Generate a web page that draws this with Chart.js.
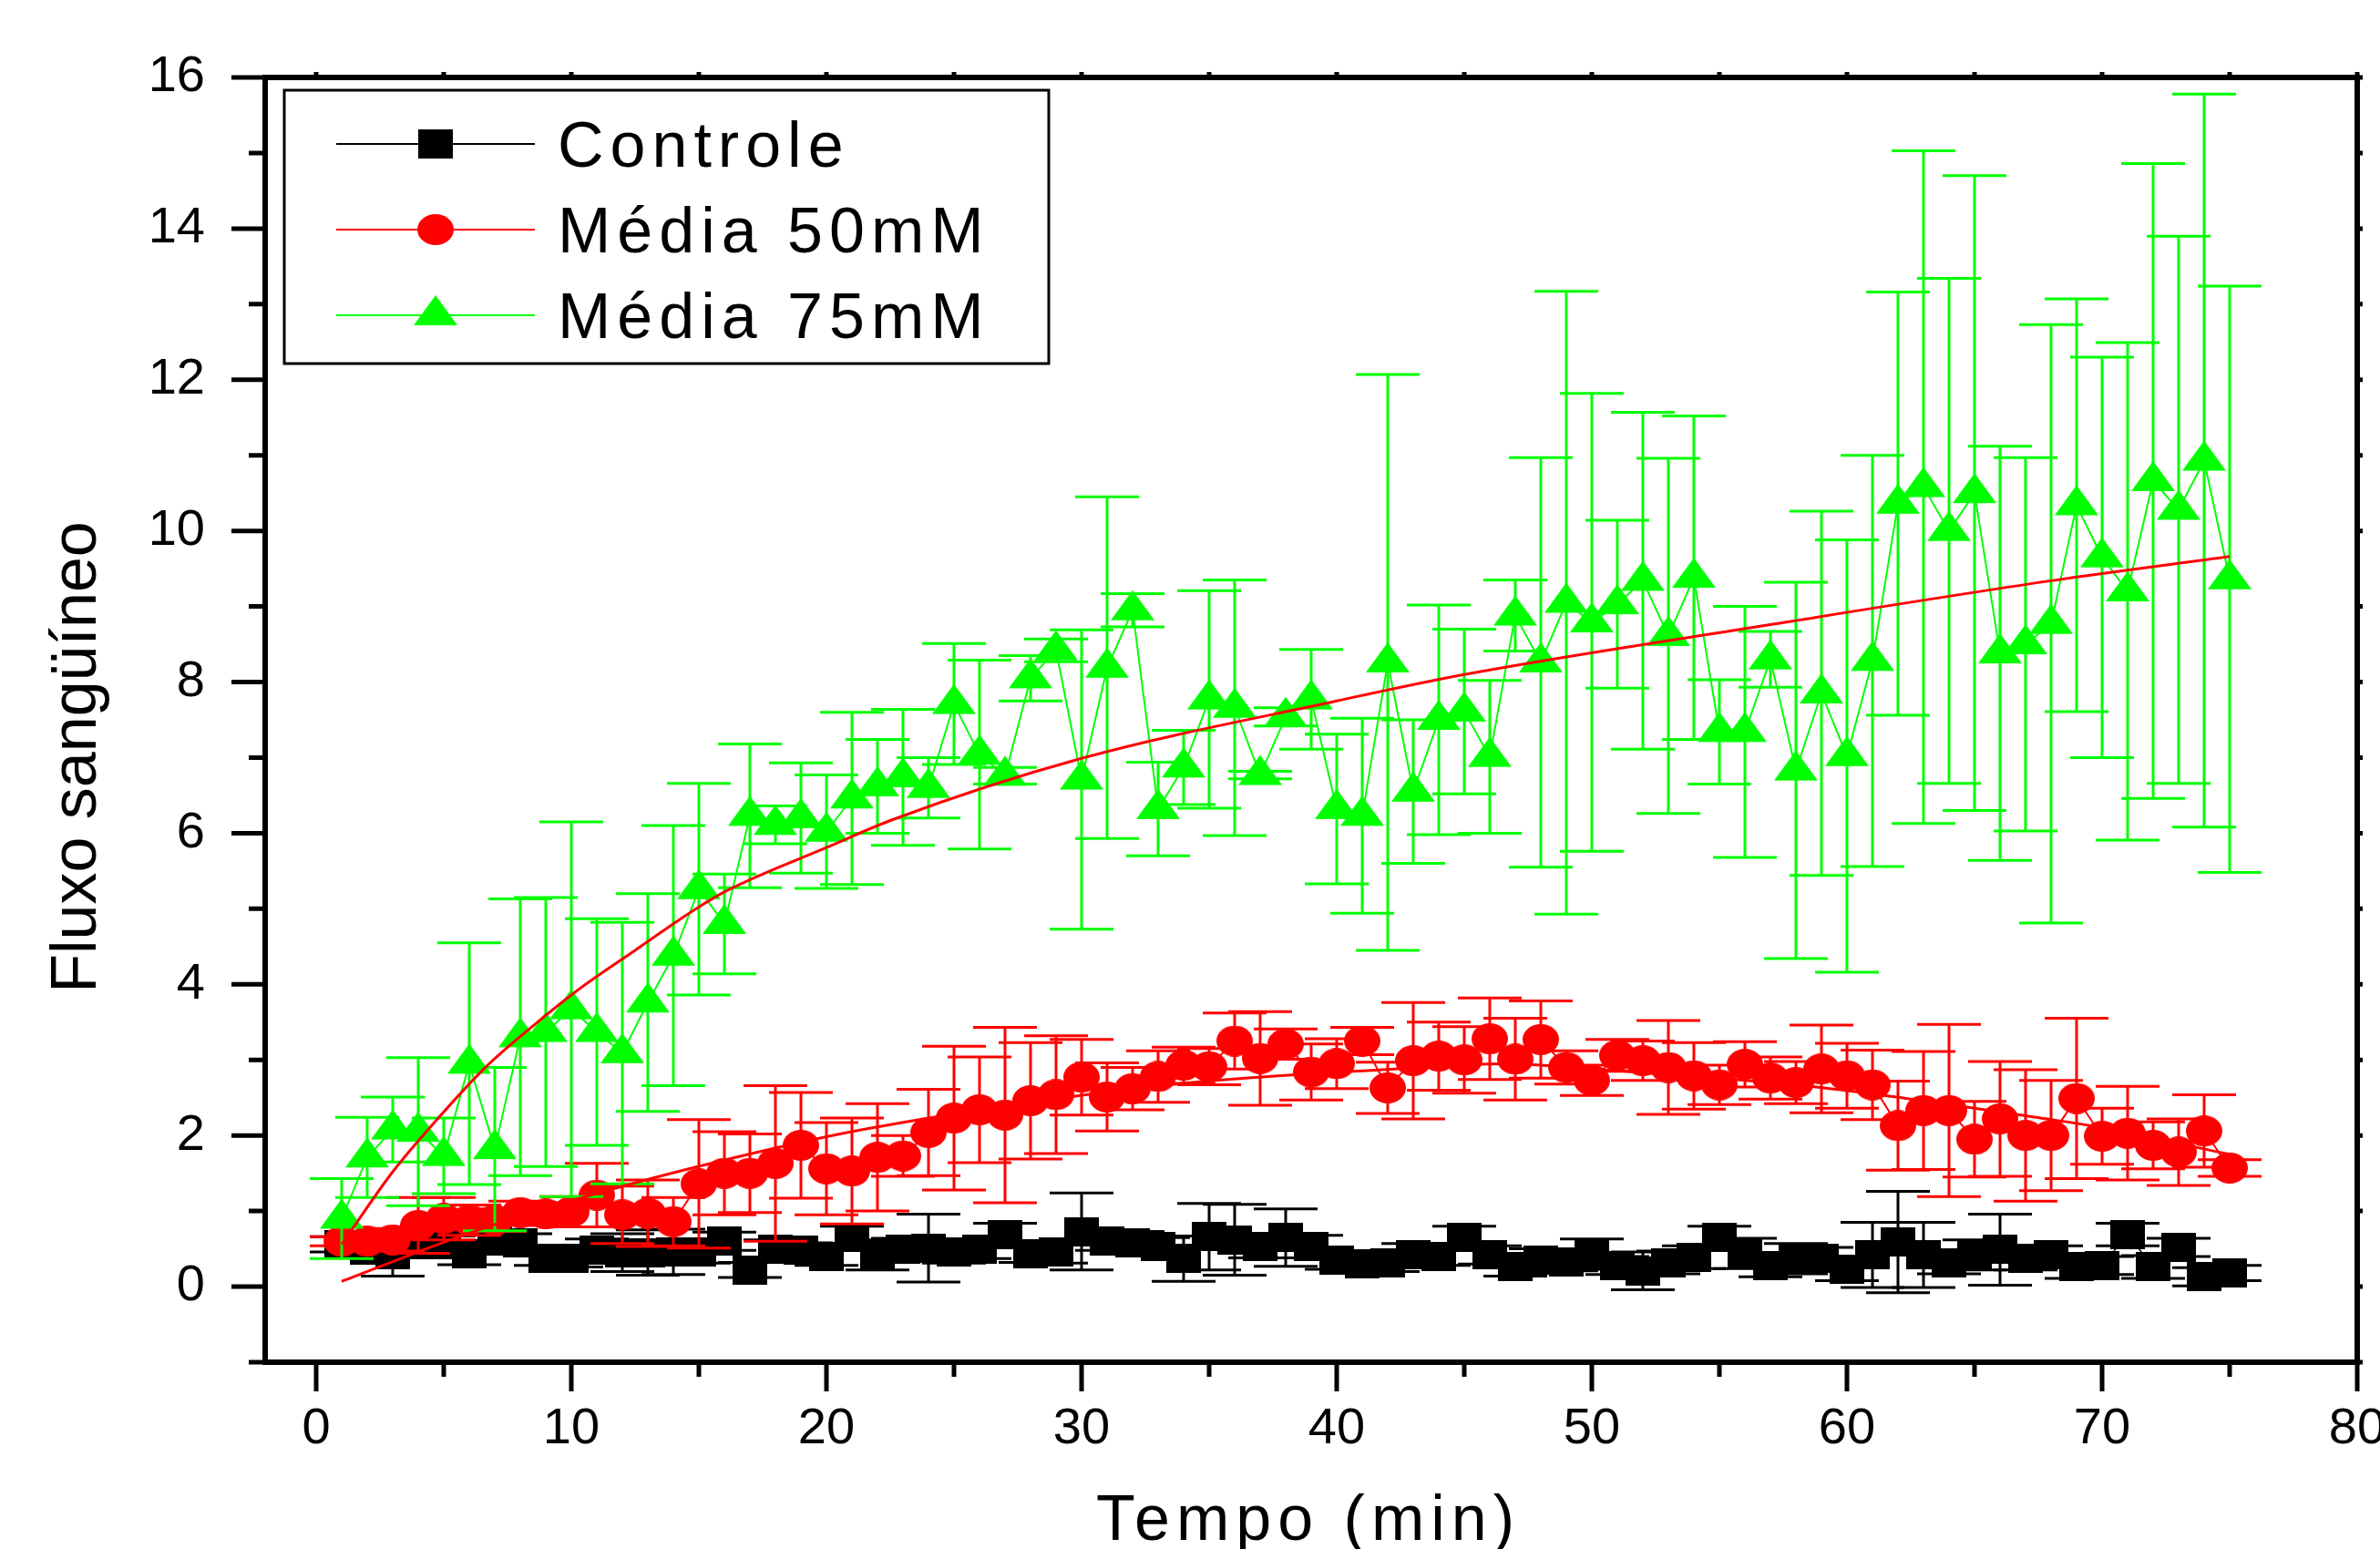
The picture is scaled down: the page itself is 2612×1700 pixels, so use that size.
<!DOCTYPE html>
<html>
<head>
<meta charset="utf-8">
<title>Fluxo sangüíneo</title>
<script src="https://cdn.jsdelivr.net/npm/chart.js@4.4.1/dist/chart.umd.min.js"></script>
<style>
    html, body { margin: 0; padding: 0; background: #fff; }
</style>
</head>
<body>
<canvas id="fluxoChart" width="2612" height="1700"></canvas>
<script>
// Tempo (min)
const tempo = [1, 2, 3, 4, 5, 6, 7, 8, 9, 10, 11, 12, 13, 14, 15, 16, 17, 18, 19, 20,
    21, 22, 23, 24, 25, 26, 27, 28, 29, 30, 31, 32, 33, 34, 35, 36, 37, 38, 39, 40,
    41, 42, 43, 44, 45, 46, 47, 48, 49, 50, 51, 52, 53, 54, 55, 56, 57, 58, 59, 60,
    61, 62, 63, 64, 65, 66, 67, 68, 69, 70, 71, 72, 73, 74, 75];

// Controle
const controle = [0.56, 0.48, 0.42, 0.55, 0.55, 0.44, 0.60, 0.58, 0.38, 0.38,
    0.48, 0.45, 0.45, 0.46, 0.46, 0.60, 0.22, 0.50, 0.48, 0.40,
    0.65, 0.42, 0.49, 0.51, 0.46, 0.49, 0.69, 0.44, 0.46, 0.73,
    0.60, 0.58, 0.53, 0.37, 0.66, 0.62, 0.53, 0.65, 0.53, 0.35,
    0.30, 0.32, 0.42, 0.40, 0.65, 0.42, 0.26, 0.35, 0.33, 0.43,
    0.28, 0.21, 0.32, 0.39, 0.65, 0.44, 0.28, 0.37, 0.37, 0.23,
    0.42, 0.59, 0.42, 0.32, 0.42, 0.49, 0.37, 0.42, 0.26, 0.28,
    0.69, 0.26, 0.52, 0.13, 0.18];
const controleErr = [0.10, 0.10, 0.28, 0.10, 0.12, 0.15, 0.10, 0.12, 0.10, 0.12,
    0.15, 0.25, 0.30, 0.30, 0.15, 0.12, 0.10, 0.12, 0.10, 0.12,
    0.15, 0.20, 0.15, 0.45, 0.15, 0.12, 0.15, 0.12, 0.15, 0.51,
    0.12, 0.15, 0.12, 0.30, 0.44, 0.47, 0.15, 0.38, 0.15, 0.12,
    0.10, 0.12, 0.15, 0.12, 0.15, 0.12, 0.12, 0.15, 0.12, 0.20,
    0.12, 0.25, 0.15, 0.15, 0.15, 0.20, 0.15, 0.20, 0.15, 0.15,
    0.43, 0.67, 0.43, 0.15, 0.20, 0.47, 0.15, 0.12, 0.15, 0.12,
    0.15, 0.15, 0.12, 0.12, 0.10];

// Média 50mM
const media50 = [0.60, 0.60, 0.62, 0.81, 0.90, 0.88, 0.88, 0.98, 0.96, 0.99,
    1.21, 0.95, 0.97, 0.86, 1.36, 1.50, 1.50, 1.63, 1.87, 1.56,
    1.53, 1.71, 1.73, 2.04, 2.23, 2.34, 2.27, 2.46, 2.54, 2.77,
    2.51, 2.62, 2.78, 2.93, 2.91, 3.25, 3.02, 3.21, 2.84, 2.95,
    3.25, 2.63, 2.99, 3.05, 3.00, 3.28, 3.01, 3.27, 2.90, 2.73,
    3.06, 2.99, 2.90, 2.79, 2.67, 2.94, 2.76, 2.70, 2.88, 2.79,
    2.67, 2.13, 2.33, 2.33, 1.95, 2.22, 2.00, 2.00, 2.49, 1.99,
    2.03, 1.87, 1.78, 2.06, 1.57];
const media50Err = [0.06, 0.06, 0.15, 0.37, 0.28, 0.20, 0.15, 0.15, 0.15, 0.20,
    0.42, 0.38, 0.44, 0.32, 0.85, 0.55, 0.52, 1.03, 0.70, 0.61,
    0.70, 0.71, 0.27, 0.57, 0.95, 0.70, 1.16, 0.77, 0.78, 0.50,
    0.45, 0.28, 0.34, 0.24, 0.24, 0.37, 0.62, 0.20, 0.37, 0.33,
    0.18, 0.34, 0.77, 0.45, 0.44, 0.54, 0.54, 0.51, 0.22, 0.20,
    0.21, 0.26, 0.62, 0.44, 0.26, 0.30, 0.28, 0.28, 0.58, 0.43,
    0.46, 0.59, 0.78, 1.14, 0.50, 0.76, 0.87, 0.73, 1.06, 0.37,
    0.62, 0.31, 0.44, 0.48, 0.11];

// Média 75mM
const media75 = [0.90, 1.71, 2.08, 2.05, 1.73, 2.95, 1.82, 3.30, 3.37, 3.67,
    3.37, 3.09, 3.76, 4.38, 5.26, 4.80, 6.23, 6.11, 6.20, 6.02,
    6.46, 6.62, 6.74, 6.60, 7.71, 7.04, 6.76, 8.05, 8.42, 6.71,
    8.19, 8.95, 6.32, 6.87, 7.77, 7.66, 6.77, 7.54, 7.77, 6.32,
    6.23, 8.26, 6.55, 7.50, 7.61, 7.01, 8.88, 8.26, 9.05, 8.79,
    9.03, 9.34, 8.61, 9.38, 7.34, 7.34, 8.30, 6.83, 7.85, 7.02,
    8.28, 10.36, 10.58, 10.00, 10.50, 8.38, 8.50, 8.77, 10.34, 9.65,
    9.20, 10.66, 10.28, 10.93, 9.36];
const media75Err = [0.53, 0.53, 0.43, 0.98, 0.50, 1.60, 1.08, 1.83, 1.78, 2.48,
    1.50, 1.73, 1.44, 1.72, 1.40, 0.66, 0.95, 0.25, 0.73, 0.75,
    1.14, 0.62, 0.90, 0.40, 0.80, 1.25, 0.11, 0.30, 0.15, 1.98,
    2.26, 0.22, 0.62, 0.49, 1.44, 1.69, 0.05, 0.12, 0.66, 0.99,
    1.29, 3.81, 0.95, 1.52, 1.09, 1.01, 0.47, 2.71, 4.12, 3.03,
    1.11, 2.23, 2.35, 2.14, 0.69, 1.66, 0.37, 2.49, 2.41, 2.86,
    2.72, 2.80, 4.45, 3.34, 4.20, 2.74, 2.47, 3.96, 2.73, 2.65,
    3.29, 4.20, 3.62, 4.85, 3.88];

// fitted curves
const ajuste50Tempo = [1, 6.1, 11.7, 17.3, 21.6, 33.7, 42.3, 46.6, 50.8, 59.1, 68, 69.7, 75];
const ajuste50 = [0.07, 0.72, 1.30, 1.78, 2.09, 2.68, 2.88, 2.95, 2.86, 2.63, 2.21, 2.12, 1.75];
const ajuste75Tempo = [1, 3, 4.6, 6.6, 8.5, 10.2, 12.5, 14.8, 16.1, 20, 22.6, 30, 40, 45, 57, 68, 75];
const ajuste75 = [0.56, 1.52, 2.16, 2.89, 3.45, 3.91, 4.45, 4.98, 5.24, 5.81, 6.18, 6.99, 7.75, 8.10, 8.76, 9.34, 9.66];

// tick marks and labels
const xMarcas = [0, 5, 10, 15, 20, 25, 30, 35, 40, 45, 50, 55, 60, 65, 70, 75, 80];
const xTicks = [0, 10, 20, 30, 40, 50, 60, 70, 80];
const yTicks = [0, 2, 4, 6, 8, 10, 12, 14, 16];

const fonte = "'Liberation Sans', Arial, sans-serif";
const capHalf = 35;

function pontos(xs, ys) {
    return xs.map((t, i) => ({ x: t, y: ys[i] }));
}

// marker shapes (Origin symbols are a bit wider than tall)
function makeMarker(w, h, draw) {
    const c = document.createElement('canvas');
    c.width = w;
    c.height = h;
    draw(c.getContext('2d'));
    return c;
}
const quadrado = makeMarker(38, 32, g => {
    g.fillStyle = '#000';
    g.fillRect(0, 0, 38, 32);
});
const circulo = makeMarker(40, 34, g => {
    g.fillStyle = '#ff0000';
    g.beginPath();
    g.ellipse(20, 17, 20, 17, 0, 0, Math.PI * 2);
    g.fill();
});
const triangulo = makeMarker(48, 44, g => {
    g.fillStyle = '#00ff00';
    g.beginPath();
    g.moveTo(24, 0);
    g.lineTo(48, 33);
    g.lineTo(0, 33);
    g.closePath();
    g.fill();
});

// Error bars, drawn right before each dataset
const errorBars = {
    id: 'errorBars',
    beforeDatasetDraw(chart, args) {
        const ds = chart.data.datasets[args.index];
        if (!ds.errors) return;
        const ctx = chart.ctx;
        const x = chart.scales.x;
        const y = chart.scales.y;
        ctx.save();
        ctx.strokeStyle = ds.borderColor;
        ctx.lineWidth = 3;
        ds.data.forEach((p, i) => {
            const e = ds.errors[i];
            const px = x.getPixelForValue(p.x);
            const top = y.getPixelForValue(p.y + e);
            const bot = y.getPixelForValue(p.y - e);
            ctx.beginPath();
            ctx.moveTo(px, top);
            ctx.lineTo(px, bot);
            ctx.moveTo(px - capHalf, top);
            ctx.lineTo(px + capHalf, top);
            ctx.moveTo(px - capHalf, bot);
            ctx.lineTo(px + capHalf, bot);
            ctx.stroke();
        });
        ctx.restore();
    }
};

// Frame, tick marks, axis titles and the legend box
const moldura = {
    id: 'moldura',
    afterDraw(chart) {
        const { ctx, chartArea: a, scales: { x, y } } = chart;
        ctx.save();
        ctx.strokeStyle = '#000';
        ctx.fillStyle = '#000';

        ctx.lineWidth = 6;
        ctx.strokeRect(a.left, a.top, a.right - a.left, a.bottom - a.top);

        ctx.lineWidth = 5;
        ctx.beginPath();
        y.ticks.forEach(t => {
            const py = y.getPixelForValue(t.value);
            const len = yTicks.includes(t.value) ? 37 : 18;
            ctx.moveTo(a.left - len, py);
            ctx.lineTo(a.left, py);
            ctx.moveTo(a.right, py);
            ctx.lineTo(a.right + 6, py);
        });
        x.ticks.forEach(t => {
            const px = x.getPixelForValue(t.value);
            const len = xTicks.includes(t.value) ? 32 : 16;
            ctx.moveTo(px, a.bottom);
            ctx.lineTo(px, a.bottom + len);
            ctx.moveTo(px, a.top - 6);
            ctx.lineTo(px, a.top);
        });
        ctx.stroke();

        // axis titles
        ctx.font = '70px ' + fonte;
        ctx.textAlign = 'center';
        ctx.textBaseline = 'alphabetic';
        ctx.save();
        ctx.translate(105, 831);
        ctx.rotate(-Math.PI / 2);
        ctx.fillText('Fluxo sangüíneo', 0, 0);
        ctx.restore();

        ctx.letterSpacing = '7px';
        ctx.fillText('Tempo (min)', 1436, 1690);

        // legend
        ctx.fillStyle = '#fff';
        ctx.fillRect(312, 99, 839, 300);
        ctx.lineWidth = 3;
        ctx.strokeRect(312, 99, 839, 300);

        ctx.letterSpacing = '7px';
        ctx.textAlign = 'left';
        const itens = chart.data.datasets.filter(d => d.inLegend)
            .sort((p, q) => p.legendRow - q.legendRow);
        itens.forEach((d, i) => {
            const cy = 158 + i * 94;
            ctx.strokeStyle = d.borderColor;
            ctx.lineWidth = 2;
            ctx.beginPath();
            ctx.moveTo(369, cy);
            ctx.lineTo(587, cy);
            ctx.stroke();
            const m = d.pointStyle;
            ctx.drawImage(m, 478 - m.width / 2, cy - m.height / 2);
            ctx.fillStyle = '#000';
            ctx.fillText(d.label, 612, cy + 25);
        });
        ctx.restore();
    }
};

const ctx = document.getElementById('fluxoChart').getContext('2d');
const fluxoChart = new Chart(ctx, {
    type: 'line',
    data: {
        datasets: [
            {
                label: 'ajuste 75mM',
                data: pontos(ajuste75Tempo, ajuste75),
                borderColor: '#ff0000',
                borderWidth: 3,
                pointRadius: 0,
                cubicInterpolationMode: 'monotone',
                order: 0
            },
            {
                label: 'ajuste 50mM',
                data: pontos(ajuste50Tempo, ajuste50),
                borderColor: '#ff0000',
                borderWidth: 3,
                pointRadius: 0,
                cubicInterpolationMode: 'monotone',
                order: 0
            },
            {
                label: 'Média 75mM',
                data: pontos(tempo, media75),
                errors: media75Err,
                borderColor: '#00ff00',
                borderWidth: 2,
                pointStyle: triangulo,
                pointRadius: 18,
                inLegend: true,
                legendRow: 3,
                order: 1
            },
            {
                label: 'Média 50mM',
                data: pontos(tempo, media50),
                errors: media50Err,
                borderColor: '#ff0000',
                borderWidth: 2,
                pointStyle: circulo,
                pointRadius: 18,
                inLegend: true,
                legendRow: 2,
                order: 2
            },
            {
                label: 'Controle',
                data: pontos(tempo, controle),
                errors: controleErr,
                borderColor: '#000000',
                borderWidth: 1.5,
                pointStyle: quadrado,
                pointRadius: 18,
                inLegend: true,
                legendRow: 1,
                order: 3
            }
        ]
    },
    options: {
        responsive: false,
        animation: false,
        devicePixelRatio: 1,
        layout: {
            padding: { left: 0, right: 25, top: 85, bottom: 0 }
        },
        plugins: {
            legend: { display: false },
            tooltip: { enabled: false }
        },
        scales: {
            x: {
                type: 'linear',
                min: -2,
                max: 80,
                grid: { display: false, drawTicks: false },
                border: { display: false },
                ticks: {
                    autoSkip: false,
                    maxRotation: 0,
                    padding: 40,
                    color: '#000',
                    font: { family: fonte, size: 56 },
                    callback: v => xTicks.includes(v) ? String(v) : ''
                },
                afterBuildTicks: function (scale) {
                    scale.ticks = xMarcas.map(v => ({ value: v }));
                },
                afterFit: function (scale) {
                    scale.height = 205;
                    scale.paddingLeft = 0;
                    scale.paddingRight = 0;
                }
            },
            y: {
                type: 'linear',
                min: -1,
                max: 16,
                grid: { display: false, drawTicks: false },
                border: { display: false },
                ticks: {
                    stepSize: 1,
                    autoSkip: false,
                    padding: 66,
                    color: '#000',
                    font: { family: fonte, size: 56 },
                    callback: v => yTicks.includes(v) ? String(v) : ''
                },
                afterFit: function (scale) {
                    scale.width = 291;
                    scale.paddingTop = 0;
                    scale.paddingBottom = 0;
                }
            }
        }
    },
    plugins: [errorBars, moldura]
});
</script>
</body>
</html>
